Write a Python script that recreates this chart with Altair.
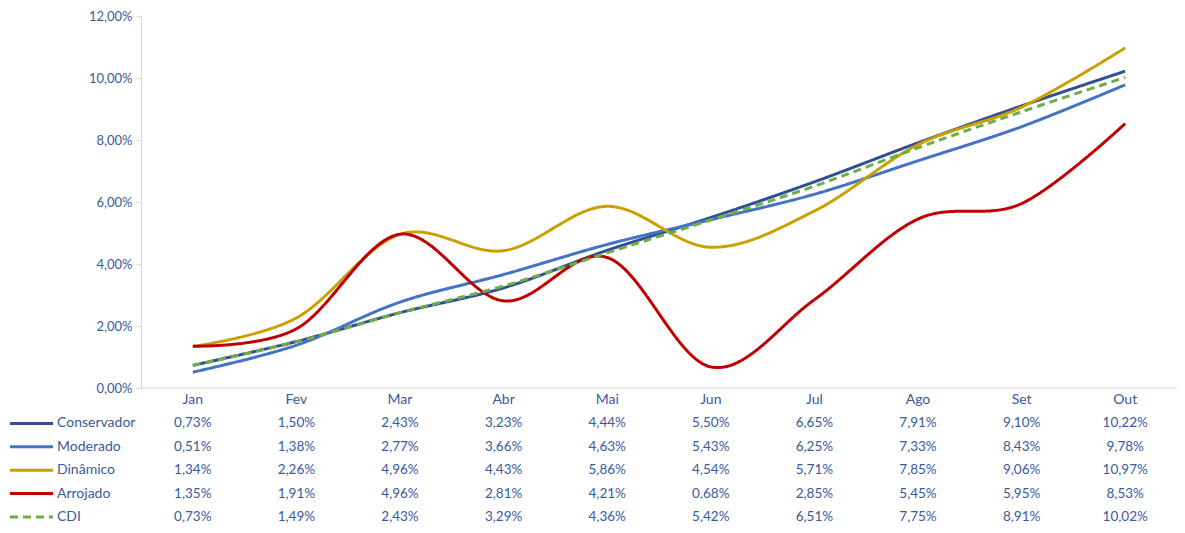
import altair as alt
import pandas as pd

months = ["Jan", "Fev", "Mar", "Abr", "Mai", "Jun", "Jul", "Ago", "Set", "Out"]
series = ["Conservador", "Moderado", "Dinâmico", "Arrojado", "CDI"]
conservador = [0.73, 1.50, 2.43, 3.23, 4.44, 5.50, 6.65, 7.91, 9.10, 10.22]
moderado = [0.51, 1.38, 2.77, 3.66, 4.63, 5.43, 6.25, 7.33, 8.43, 9.78]
dinamico = [1.34, 2.26, 4.96, 4.43, 5.86, 4.54, 5.71, 7.85, 9.06, 10.97]
arrojado = [1.35, 1.91, 4.96, 2.81, 4.21, 0.68, 2.85, 5.45, 5.95, 8.53]
cdi = [0.73, 1.49, 2.43, 3.29, 4.36, 5.42, 6.51, 7.75, 8.91, 10.02]
y_ticks = [0, 2, 4, 6, 8, 10, 12]

colors = ["#2f5192", "#4472c4", "#c9a000", "#c00000", "#70ad47"]
dashes = [[1, 0], [1, 0], [1, 0], [1, 0], [8, 5]]
text_color = "#3a5a9c"
axis_color = "#d9d9d9"
FONT = "Lato"

values_by_series = [conservador, moderado, dinamico, arrojado, cdi]
rows = []
for s, vals in zip(series, values_by_series):
    for i, (m, v) in enumerate(zip(months, vals)):
        rows.append({"idx": i, "month": m, "series": s, "value": v})
df = pd.DataFrame(rows)
df_months = pd.DataFrame({"idx": list(range(len(months))), "month": months, "row": "_month"})
df_legend = pd.DataFrame({"series": series})
df_zero = pd.DataFrame({"x0": [-0.5], "x1": [len(months) - 0.5], "y": [0]})

xs = alt.Scale(domain=[-0.5, len(months) - 0.5], range=[133, 1169])
ys = alt.Scale(domain=[0, 12], range=[380, 8])
row_scale = alt.Scale(type="point", domain=["_month"] + series, range=[392, 509], padding=0)
color_scale = alt.Scale(domain=series, range=colors)
dash_scale = alt.Scale(domain=series, range=dashes)

y_axis = alt.Axis(
    values=y_ticks,
    labelExpr="replace(format(datum.value, '.2f'), '.', ',') + '%'",
    grid=False, domainColor=axis_color, tickColor=axis_color, tickSize=5,
    labelColor=text_color, labelFontSize=13, labelFont=FONT, labelPadding=4,
    offset=-133, title=None,
)

zero_rule = alt.Chart(df_zero).mark_rule(color=axis_color, strokeWidth=1).encode(
    x=alt.X("x0:Q", scale=xs, axis=None),
    x2="x1:Q",
    y=alt.Y("y:Q", scale=ys, axis=None),
)

lines = alt.Chart(df).mark_line(interpolate="cardinal", strokeWidth=3).encode(
    x=alt.X("idx:Q", scale=xs, axis=None),
    y=alt.Y("value:Q", scale=ys, axis=y_axis),
    color=alt.Color("series:N", scale=color_scale, legend=None),
    strokeDash=alt.StrokeDash("series:N", scale=dash_scale, legend=None),
    order=alt.Order("idx:Q"),
)

month_text = alt.Chart(df_months).mark_text(
    fontSize=14, font=FONT, color=text_color, baseline="middle", align="center"
).encode(
    x=alt.X("idx:Q", scale=xs, axis=None),
    y=alt.Y("row:N", scale=row_scale, axis=None),
    text="month:N",
)

table_text = alt.Chart(df).transform_calculate(
    label="replace(format(datum.value, '.2f'), '.', ',') + '%'"
).mark_text(
    fontSize=13.5, font=FONT, color=text_color, baseline="middle", align="center"
).encode(
    x=alt.X("idx:Q", scale=xs, axis=None),
    y=alt.Y("series:N", scale=row_scale, axis=None),
    text="label:N",
)

legend_keys = alt.Chart(df_legend).mark_rule(strokeWidth=3).encode(
    x=alt.value(2),
    x2=alt.value(45),
    y=alt.Y("series:N", scale=row_scale, axis=None),
    color=alt.Color("series:N", scale=color_scale, legend=None),
    strokeDash=alt.StrokeDash("series:N", scale=dash_scale, legend=None),
)

legend_names = alt.Chart(df_legend).mark_text(
    fontSize=14, font=FONT, color=text_color, baseline="middle", align="left"
).encode(
    x=alt.value(49),
    y=alt.Y("series:N", scale=row_scale, axis=None),
    text="series:N",
)

chart = alt.layer(
    zero_rule, lines, month_text, table_text, legend_keys, legend_names
).resolve_scale(
    y="independent"
).properties(
    width=1169, height=517,
    autosize=alt.AutoSizeParams(type="none"),
    padding=0,
).configure_view(stroke=None)

chart.save("out.html", embed_options={"renderer": "svg", "actions": False})
